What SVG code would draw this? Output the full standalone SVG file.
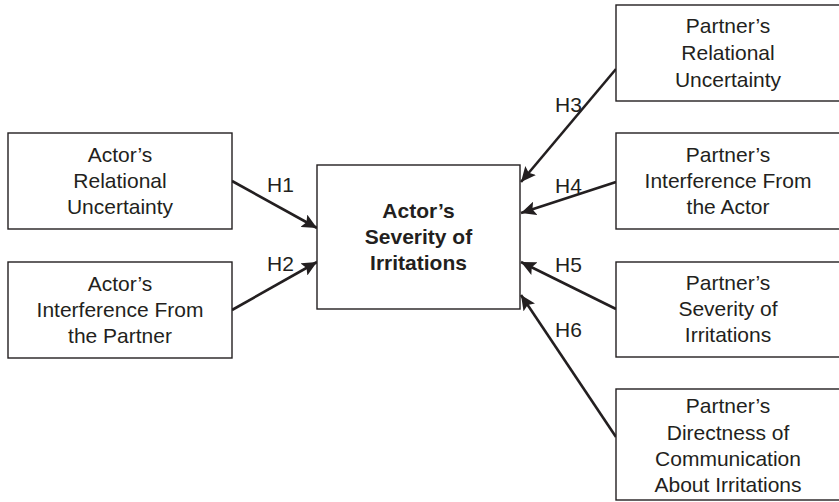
<svg xmlns="http://www.w3.org/2000/svg" width="839" height="502" viewBox="0 0 839 502">
<style>
.box{fill:#fff;stroke:#231f20;stroke-width:1.4}
.t{font-family:"Liberation Sans",Arial,sans-serif;font-size:21px;fill:#231f20;text-anchor:middle}
.b{font-weight:bold}
.lbl{font-family:"Liberation Sans",Arial,sans-serif;font-size:21px;fill:#231f20}
.c{stroke:#231f20;stroke-width:2.6;fill:none;marker-end:url(#ah)}
</style>
<defs>
<marker id="ah" markerUnits="userSpaceOnUse" markerWidth="16" markerHeight="14" refX="15" refY="7" orient="auto">
<path d="M0,0 L15,7 L0,14 L3,7 Z" fill="#231f20"/>
</marker>
</defs>
<rect width="839" height="502" fill="#fff"/>
<g id="connectors">
<line class="c" x1="232" y1="181" x2="317" y2="228"/>
<line class="c" x1="232" y1="310" x2="317" y2="262"/>
<line class="c" x1="616" y1="69" x2="521" y2="182"/>
<line class="c" x1="616" y1="182" x2="521" y2="213"/>
<line class="c" x1="616" y1="309" x2="521" y2="262"/>
<line class="c" x1="616" y1="437" x2="521" y2="295"/>
<text class="lbl" x="267" y="192">H1</text>
<text class="lbl" x="267" y="271">H2</text>
<text class="lbl" x="555" y="112">H3</text>
<text class="lbl" x="555" y="193">H4</text>
<text class="lbl" x="555" y="272">H5</text>
<text class="lbl" x="555" y="337">H6</text>
</g>
<g id="actor-uncertainty">
<rect class="box" x="8" y="133" width="224" height="96"/>
<text class="t" x="120" y="162">Actor’s</text>
<text class="t" x="120" y="188">Relational</text>
<text class="t" x="120" y="214">Uncertainty</text>
</g>
<g id="actor-interference">
<rect class="box" x="8" y="262" width="224" height="96"/>
<text class="t" x="120" y="291">Actor’s</text>
<text class="t" x="120" y="317">Interference From</text>
<text class="t" x="120" y="343">the Partner</text>
</g>
<g id="actor-severity">
<rect class="box" x="317" y="165" width="203" height="144"/>
<text class="t b" x="418.5" y="218">Actor’s</text>
<text class="t b" x="418.5" y="244">Severity of</text>
<text class="t b" x="418.5" y="270">Irritations</text>
</g>
<g id="partner-uncertainty">
<rect class="box" x="616" y="5" width="226" height="96"/>
<text class="t" x="728" y="33">Partner’s</text>
<text class="t" x="728" y="60">Relational</text>
<text class="t" x="728" y="87">Uncertainty</text>
</g>
<g id="partner-interference">
<rect class="box" x="616" y="133" width="226" height="96"/>
<text class="t" x="728" y="162">Partner’s</text>
<text class="t" x="728" y="188">Interference From</text>
<text class="t" x="728" y="214">the Actor</text>
</g>
<g id="partner-severity">
<rect class="box" x="616" y="262" width="226" height="95"/>
<text class="t" x="728" y="290">Partner’s</text>
<text class="t" x="728" y="316">Severity of</text>
<text class="t" x="728" y="342">Irritations</text>
</g>
<g id="partner-directness">
<rect class="box" x="616" y="389" width="226" height="111"/>
<text class="t" x="728" y="413">Partner’s</text>
<text class="t" x="728" y="440">Directness of</text>
<text class="t" x="728" y="466">Communication</text>
<text class="t" x="728" y="492">About Irritations</text>
</g>
</svg>
